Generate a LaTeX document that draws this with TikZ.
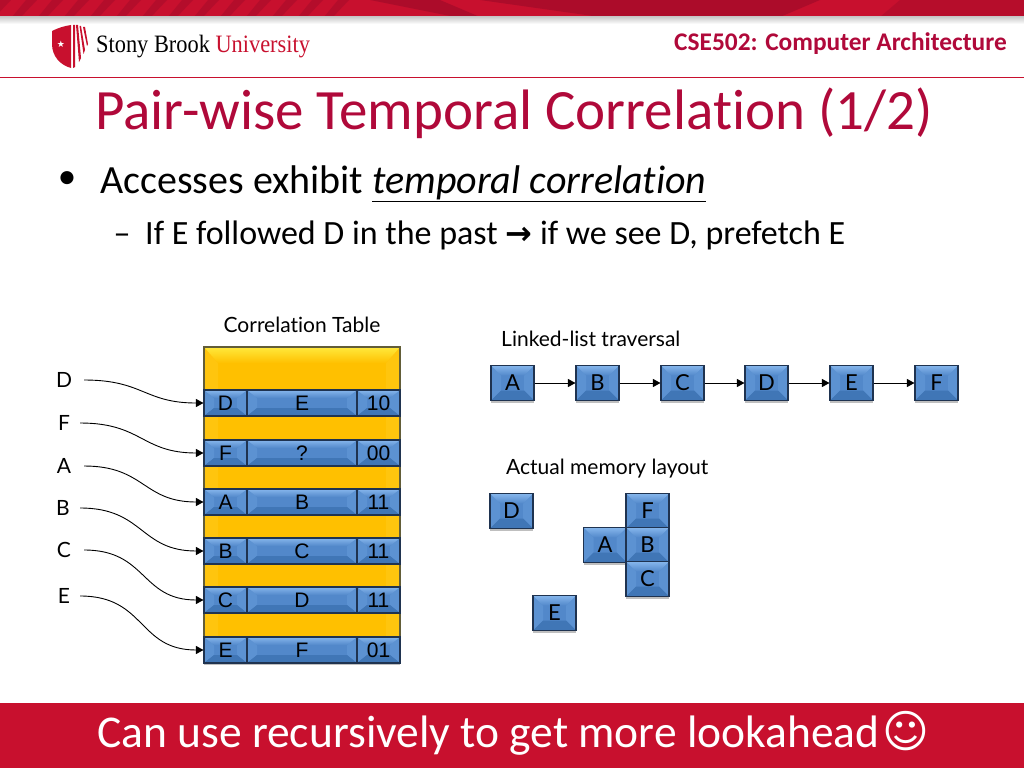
\documentclass[tikz,border=0pt]{standalone}
\usepackage{fontspec}
\setmainfont[Ligatures=NoCommon]{Carlito}
\newfontfamily\labelfont[Ligatures=NoCommon]{Lato}
\newfontfamily\cellfont{Liberation Sans}
\newfontfamily\logofont{Liberation Serif}
\newfontfamily\symbolfont{DejaVu Sans}
\usetikzlibrary{arrows.meta,shadows}

\definecolor{sbured}{HTML}{C8102E}
\definecolor{sbudark}{HTML}{A50B2A}
\definecolor{titlered}{HTML}{B0093A}
\definecolor{boxtop}{HTML}{86B6EC}
\definecolor{boxface}{HTML}{5288CA}
\definecolor{boxside}{HTML}{5C92D2}
\definecolor{boxlow}{HTML}{4076B6}
\definecolor{boxedge}{HTML}{1F3350}
\definecolor{gold}{HTML}{FFC000}
\definecolor{goldtop}{HTML}{FFE93C}
\definecolor{goldside}{HTML}{FFC50E}

% bevelled face: #1 side depth, #2 top depth, then the colours
\newcommand{\bevelface}[6]{
  \fill[#5] (path picture bounding box.north west) -- (path picture bounding box.south west)
    -- ([shift={(#1,-#2)}]path picture bounding box.south west)
    -- ([shift={(#1,#2)}]path picture bounding box.north west) -- cycle;
  \fill[#5] (path picture bounding box.north east) -- (path picture bounding box.south east)
    -- ([shift={(-#1,-#2)}]path picture bounding box.south east)
    -- ([shift={(-#1,#2)}]path picture bounding box.north east) -- cycle;
  \fill[#6] (path picture bounding box.south west) -- (path picture bounding box.south east)
    -- ([shift={(-#1,-#2)}]path picture bounding box.south east)
    -- ([shift={(#1,-#2)}]path picture bounding box.south west) -- cycle;
  \shade[top color=#3,bottom color=#4] (path picture bounding box.north west) -- (path picture bounding box.north east)
    -- ([shift={(-#1,#2)}]path picture bounding box.north east)
    -- ([shift={(#1,#2)}]path picture bounding box.north west) -- cycle;
}

\begin{document}
\begin{tikzpicture}[x=1pt,y=-1pt,>={Triangle[length=7.5pt,width=8pt]},
    bluebox/.style={draw=boxedge,line width=1.1pt,fill=boxface,inner sep=0pt,
      drop shadow={shadow xshift=0pt,shadow yshift=-2pt,opacity=.25,fill=black},
      path picture={\bevelface{10}{10}{boxtop}{boxface}{boxside}{boxlow}}},
    listbox/.style={bluebox,minimum width=43pt,minimum height=35pt,font=\labelfont\fontsize{22}{24}\selectfont},
    cellbox/.style={draw=boxedge,line width=1.1pt,fill=boxface,inner sep=0pt,minimum height=26pt,
      font=\cellfont\fontsize{21}{24}\selectfont,
      path picture={\bevelface{10}{8}{boxtop}{boxface}{boxside}{boxlow}}},
    keycell/.style={cellbox,minimum width=43pt},
    nextcell/.style={cellbox,minimum width=110pt},
    cntcell/.style={cellbox,minimum width=43pt},
    lbl/.style={font=\labelfont\fontsize{21}{24}\selectfont,inner sep=0pt,minimum height=24pt},
    wire/.style={->,line width=.9pt,black}]

  \useasboundingbox (0,0) rectangle (1024,768);

  % header band
  \fill[sbured] (0,0) rectangle (1024,17);
  \begin{scope}
    \clip (0,0) rectangle (1024,17);
    \foreach \a in {0,26,...,350}
      \fill[sbudark,opacity=.55] (\a,0) -- (\a+11,0) -- (\a-5,17) -- (\a-14,17) -- cycle;
    \fill[sbudark,opacity=.8] (370,0) -- (440,0) -- (480,17) -- (455,17) -- cycle;
    \fill[sbudark,opacity=.8] (480,0) -- (820,0) -- (780,17) -- (600,17) -- cycle;
    \fill[sbudark,opacity=.5] (900,0) -- (1024,0) -- (1024,17) -- (880,17) -- cycle;
  \end{scope}
  \shade[top color=black!20,bottom color=white] (0,17) rectangle (1024,24);
  \draw[sbured,line width=1.2pt] (0,77.5) -- (1024,77.5);

  % shield
  \fill[sbured] (52,31) .. controls (58,28) and (64,26) .. (71,25) -- (71,68)
    .. controls (60,65) and (52,56) .. (52,44) -- cycle;
  \fill[sbured] (73,25) -- (75,25) -- (75,67) -- (73,68) -- cycle;
  \fill[sbured] (76,25) -- (78,25) -- (81,58) -- (79,62) -- cycle;
  \fill[sbured] (79.5,26) -- (81,26) -- (85,50) -- (83.5,54) -- cycle;
  \fill[sbured] (83,27) -- (85,27) -- (88,44) -- (87,46) -- cycle;
  \node[text=white,font=\symbolfont\fontsize{9}{9}\selectfont,inner sep=0pt] (star) at (61,44) {★};

  \node[font=\logofont\fontsize{25}{28}\selectfont,anchor=west,inner sep=0pt] (logo) at (96,47)
    {\scalebox{.895}[1]{Stony Brook \textcolor{sbured}{University}}};
  \node[font=\bfseries\fontsize{25.4}{28}\selectfont,text=titlered,anchor=base east,inner sep=0pt] (course) at (1007,51)
    {CSE502: Computer Architecture};

  % title and bullets
  \node[font=\fontsize{57}{60}\selectfont,text=titlered,anchor=base west,inner sep=0pt] (title) at (95,129)
    {Pair-wise Temporal Correlation (1/2)};
  \node[font=\fontsize{37}{42}\selectfont,inner sep=0pt] (dot) at (67,180) {•};
  \node[font=\fontsize{40}{42}\selectfont,anchor=base west,inner sep=0pt] (main) at (100,193)
    {Accesses exhibit \underline{\textit{temporal correlation}}};
  \node[font=\fontsize{34}{36}\selectfont,anchor=base,inner sep=0pt] (dash) at (122,244) {–};
  \node[font=\fontsize{34}{36}\selectfont,anchor=base west,inner sep=0pt] (sub) at (145,244)
    {If E followed D in the past {\symbolfont\bfseries\fontsize{32}{32}\selectfont→} if we see D, prefetch E};

  % correlation table
  \node[lbl] (tablename) at (302,325) {Correlation Table};
  \node[draw=boxedge!70!gold,line width=1.1pt,fill=gold,inner sep=0pt,minimum width=196pt,minimum height=316pt,
    drop shadow={shadow xshift=0pt,shadow yshift=-2pt,opacity=.25,fill=black},
    path picture={\bevelface{14}{16}{goldtop}{gold}{goldside}{gold}}] (table) at (302,505) {};

  \node[keycell]  (keyD) at (225.5,403) {D};
  \node[nextcell] (nxtD) at (302,403)   {E};
  \node[cntcell]  (cntD) at (378.5,403) {10};
  \node[keycell]  (keyF) at (225.5,453) {F};
  \node[nextcell] (nxtF) at (302,453)   {?};
  \node[cntcell]  (cntF) at (378.5,453) {00};
  \node[keycell]  (keyA) at (225.5,502) {A};
  \node[nextcell] (nxtA) at (302,502)   {B};
  \node[cntcell]  (cntA) at (378.5,502) {11};
  \node[keycell]  (keyB) at (225.5,551) {B};
  \node[nextcell] (nxtB) at (302,551)   {C};
  \node[cntcell]  (cntB) at (378.5,551) {11};
  \node[keycell]  (keyC) at (225.5,600) {C};
  \node[nextcell] (nxtC) at (302,600)   {D};
  \node[cntcell]  (cntC) at (378.5,600) {11};
  \node[keycell]  (keyE) at (225.5,650) {E};
  \node[nextcell] (nxtE) at (302,650)   {F};
  \node[cntcell]  (cntE) at (378.5,650) {01};

  \node[lbl,minimum width=40pt] (inD) at (64,380) {D};
  \node[lbl,minimum width=32pt] (inF) at (64,423) {F};
  \node[lbl,minimum width=40pt] (inA) at (64,466) {A};
  \node[lbl,minimum width=34pt] (inB) at (63,508) {B};
  \node[lbl,minimum width=40pt] (inC) at (64,550) {C};
  \node[lbl,minimum width=32pt] (inE) at (64,596) {E};

  \draw[wire] (inD.east) to[out=0,in=180,looseness=1.25] (keyD.west);
  \draw[wire] (inF.east) to[out=0,in=180,looseness=1.25] (keyF.west);
  \draw[wire] (inA.east) to[out=0,in=180,looseness=1.25] (keyA.west);
  \draw[wire] (inB.east) to[out=0,in=180,looseness=1.25] (keyB.west);
  \draw[wire] (inC.east) to[out=0,in=180,looseness=1.25] (keyC.west);
  \draw[wire] (inE.east) to[out=0,in=180,looseness=1.25] (keyE.west);

  % linked list
  \node[lbl,anchor=west] (listname) at (501,339) {Linked-list traversal};
  \node[listbox] (listA) at (512.5,383) {A};
  \node[listbox] (listB) at (597.5,383) {B};
  \node[listbox] (listC) at (682.5,383) {C};
  \node[listbox] (listD) at (766.5,383) {D};
  \node[listbox] (listE) at (851.5,383) {E};
  \node[listbox] (listF) at (936.5,383) {F};
  \path[wire] (listA) edge (listB)
              (listB) edge (listC)
              (listC) edge (listD)
              (listD) edge (listE)
              (listE) edge (listF);

  % memory layout
  \node[lbl,anchor=west] (memname) at (506,469) {Actual memory layout};
  \node[listbox] (memD) at (511.5,511) {D};
  \node[listbox] (memF) at (647.5,511) {F};
  \node[listbox] (memA) at (605,545)   {A};
  \node[listbox] (memB) at (647.5,545) {B};
  \node[listbox] (memC) at (647.5,579) {C};
  \node[listbox] (memE) at (554.5,613) {E};

  % footer
  \fill[sbured] (0,703) rectangle (1024,768);
  \node[font=\fontsize{45.5}{48}\selectfont,text=white,anchor=base west,inner sep=0pt] (footer) at (97,747)
    {Can use recursively to get more lookahead};
  \node[font=\symbolfont\fontsize{45}{48}\selectfont,text=white,inner sep=0pt] (smile) at (906,731) {☺};
\end{tikzpicture}
\end{document}
